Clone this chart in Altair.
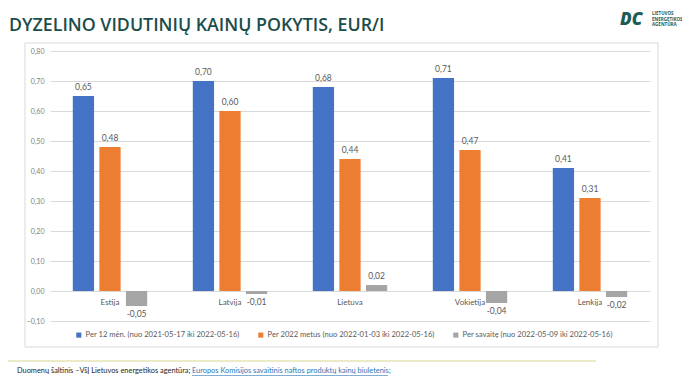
import altair as alt
import pandas as pd

countries = ["Estija", "Latvija", "Lietuva", "Vokietija", "Lenkija"]
series = [
    "Per 12 mėn. (nuo 2021-05-17 iki 2022-05-16)",
    "Per 2022 metus (nuo 2022-01-03 iki 2022-05-16)",
    "Per savaitę (nuo 2022-05-09 iki 2022-05-16)",
]
per_12_men = [0.65, 0.70, 0.68, 0.71, 0.41]
per_2022_metus = [0.48, 0.60, 0.44, 0.47, 0.31]
per_savaite = [-0.05, -0.01, 0.02, -0.04, -0.02]
colors = ["#4472C4", "#ED7D31", "#A5A5A5"]
y_ticks = [-0.1, 0.0, 0.1, 0.2, 0.3, 0.4, 0.5, 0.6, 0.7, 0.8]

title_text = "DYZELINO VIDUTINIŲ KAINŲ POKYTIS, EUR/I"
source_text = "Duomenų šaltinis –VšĮ  Lietuvos energetikos agentūra;"
link_text = "Europos Komisijos savaitinis naftos produktų kainų biuletenis;"
logo_text = "LIETUVOS\nENERGETIKOS\nAGENTŪRA"

rows = []
for s, vals in zip(series, [per_12_men, per_2022_metus, per_savaite]):
    for c, v in zip(countries, vals):
        rows.append({"country": c, "series": s, "value": v,
                     "label": f"{v:.2f}".replace(".", ",")})
df = pd.DataFrame(rows)
cat_df = pd.DataFrame({"country": countries, "zero": [0.0] * len(countries)})

FONT = "Lato"
x_enc = alt.X("country:N", sort=countries, axis=None,
              scale=alt.Scale(paddingInner=0.38, paddingOuter=0.19))
xo_enc = alt.XOffset("series:N", sort=series, scale=alt.Scale(paddingInner=0.2))
y_scale = alt.Scale(domain=[-0.1, 0.8], nice=False, zero=False)
y_axis = alt.Axis(values=y_ticks, title=None, domain=False, ticks=False,
                  labelOverlap=False,
                  labelExpr="replace(format(datum.value, '.2f'), '.', ',')",
                  labelFontSize=7, labelFont=FONT, labelColor="#7F7F7F",
                  labelPadding=6, gridColor="#D9D9D9", gridWidth=1)
y_enc = alt.Y("value:Q", scale=y_scale, axis=y_axis)

bars = alt.Chart(df).mark_bar().encode(
    x=x_enc, xOffset=xo_enc, y=y_enc,
    color=alt.Color("series:N", sort=series,
                    scale=alt.Scale(domain=series, range=colors),
                    legend=alt.Legend(title=None, orient="none", legendX=25, legendY=280,
                                      direction="horizontal", symbolType="square",
                                      symbolSize=26, symbolStrokeWidth=0,
                                      labelFontSize=7.6, labelFont=FONT,
                                      labelColor="#595959", columnPadding=17,
                                      labelLimit=400, labelOffset=3)),
)

pos_labels = alt.Chart(df).transform_filter("datum.value >= 0").mark_text(
    baseline="bottom", dy=-4, fontSize=8.5, font=FONT, color="#595959"
).encode(x=x_enc, xOffset=xo_enc, y=y_enc, text="label:N")

neg_labels = alt.Chart(df).transform_filter("datum.value < 0").mark_text(
    baseline="top", dy=4, fontSize=8.5, font=FONT, color="#595959"
).encode(x=x_enc, xOffset=xo_enc, y=y_enc, text="label:N")

cat_labels = alt.Chart(cat_df).mark_text(
    baseline="middle", dy=12, fontSize=8, font=FONT, color="#595959"
).encode(x=x_enc, y=alt.Y("zero:Q", scale=y_scale, axis=y_axis), text="country:N")

one = pd.DataFrame({"t": [""]})
box = alt.Chart(one).mark_rect(fillOpacity=0, stroke="#D9D9D9", strokeWidth=1).encode(
    x=alt.value(-25), x2=alt.value(608), y=alt.value(-8), y2=alt.value(296))

title = alt.Chart(pd.DataFrame({"t": [title_text]})).mark_text(
    align="left", baseline="alphabetic", fontSize=17.8, fontWeight=600,
    font="Open Sans", color="#1B4D4A"
).encode(x=alt.value(-41), y=alt.value(-20), text="t:N")

logo_mark = alt.Chart(pd.DataFrame({"t": ["DC"]})).mark_text(
    align="left", baseline="alphabetic", fontSize=17, fontWeight=800,
    fontStyle="italic", font="Open Sans", color="#1D5C55"
).encode(x=alt.value(570), y=alt.value(-26), text="t:N")

logo_words = alt.Chart(pd.DataFrame({"t": [logo_text]})).mark_text(
    align="left", baseline="top", fontSize=4.5, lineHeight=5.5, fontWeight=700,
    font="Open Sans", color="#1D5C55", lineBreak="\n"
).encode(x=alt.value(602), y=alt.value(-40), text="t:N")

sep = alt.Chart(one).mark_rule(color="#D6D88E", strokeWidth=1).encode(
    x=alt.value(-45), x2=alt.value(546), y=alt.value(310))

source = alt.Chart(pd.DataFrame({"t": [source_text]})).mark_text(
    align="left", baseline="middle", fontSize=7.4, font=FONT, color="#262626"
).encode(x=alt.value(-33), y=alt.value(320), text="t:N")

link = alt.Chart(pd.DataFrame({"t": [link_text]})).mark_text(
    align="left", baseline="middle", fontSize=7.4, font=FONT, color="#2E75B6"
).encode(x=alt.value(142), y=alt.value(320), text="t:N")

link_ul = alt.Chart(one).mark_rule(color="#2E75B6", strokeWidth=0.6).encode(
    x=alt.value(142), x2=alt.value(338), y=alt.value(324.5))

chart = alt.layer(
    box, bars, pos_labels, neg_labels, cat_labels, title, logo_mark, logo_words,
    sep, source, link, link_ul
).properties(
    width=600, height=270,
    autosize=alt.AutoSizeParams(type="none"),
    padding={"left": 42, "top": 43, "right": 32, "bottom": 58},
    background="white",
).configure_view(stroke=None)

chart.save("out.html", embed_options={"renderer": "svg", "actions": False})
